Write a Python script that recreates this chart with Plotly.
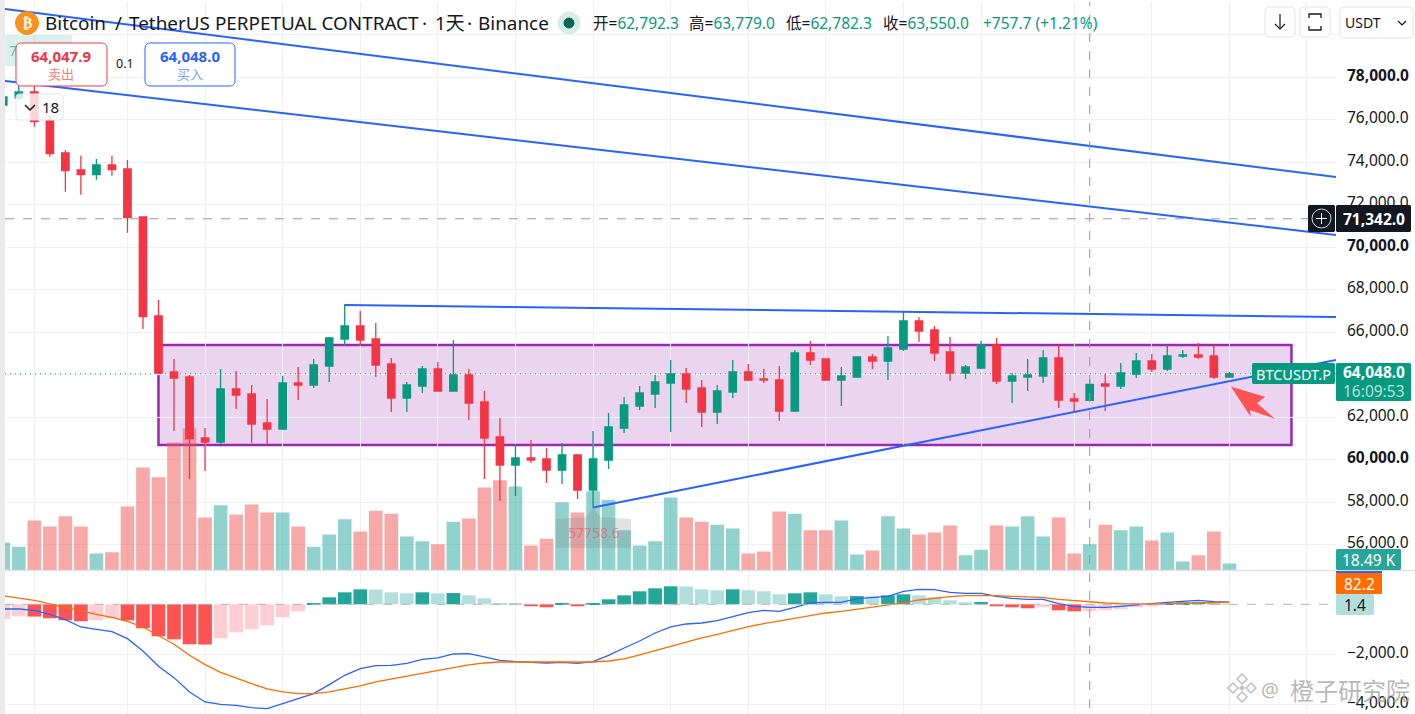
import plotly.graph_objects as go

opens = [76697,77026,77309,75944,74438,73638,73417,73873,73685,71426,66767,64132,63897,61026,60838,63332,63097,61732,61450,63614,
 63520,64414,65685,66296,65685,64508,62909,63473,64273,63238,63991,62720,61073,59755,60085,60038,59520,60226,58579,59991,
 61497,62532,63097,63614,64038,63379,62250,63191,64132,63803,63756,62297,65026,64744,63756,63897,64838,64650,65215,66532,
 66108,65073,64085,64320,65403,63709,63897,63944,64791,62862,62792.3,63567,63473,64038,64650,64273,64885,64932,64885,63897]
highs = [77167,77638,77591,76179,74579,74311,74155,74311,74108,71426,67520,64744,63991,61497,64273,64179,63520,62862,63944,64367,
 64744,65779,67285,67003,66438,64791,63661,64414,64602,65638,64273,63238,61967,60744,60932,60555,60791,60273,61355,62203,
 62956,63473,63991,64697,64320,63756,63520,64697,64508,64273,64414,65167,65591,64744,64367,64838,64979,65826,66956,66720,
 66296,65779,64461,65591,65732,64085,64744,65167,65403,63144,63779.0,64038,64555,65026,64979,65403,65167,65497,65403,64132]
lows = [76603,76932,75676,74264,72617,72475,73181,73370,70687,66155,64085,61370,59097,59473,60744,62391,60791,60696,61450,62814,
 63379,63661,65356,65356,63897,62250,62250,63144,63238,63238,61873,59097,58061,58297,59850,58908,58861,58155,57758.6,59567,
 61261,62344,62438,61308,62673,61544,61685,62909,63709,63614,61826,62250,64461,63756,62532,63897,64273,63756,65120,65544,
 64650,63709,63803,64273,63567,62673,63238,63614,62438,62250,62782.3,62297,63332,63850,64132,64179,64791,64744,63803,63897]
closes = [77073,77309,75911,74405,73605,73417,73873,73652,71393,66734,64085,63850,60993,60838,63332,63050,61685,61450,63614,63520,
 64461,65732,66296,65638,64461,62909,63520,64273,63238,63991,62673,61026,59755,60085,59991,59520,60226,58579,60038,61544,
 62579,63144,63661,64038,63332,62250,63238,64132,63756,63756,62297,65026,64697,63756,63944,64838,64650,65262,66532,66061,
 65026,64085,64367,65403,63709,63944,63991,64791,62814,62767,63550.0,63473,64085,64650,64273,64885,64932,64838,63897,64048]
volumes_k = [74,63,132,116,143,116,45,48,169,272,246,338,375,140,172,148,174,153,153,116,
 63,95,135,103,158,150,90,77,69,129,137,219,238,222,66,84,180,153,209,187,
 106,66,77,193,140,129,121,111,45,50,156,150,106,106,132,42,53,143,111,95,
 100,119,40,55,119,116,143,90,140,45,69,121,106,116,79,100,24,40,103,18.49]
macd_hist = [-587,-480,-490,-560,-640,-680,-640,-560,-640,-960,-1280,-1400,-1600,-1610,-1360,-1120,-1000,-840,-520,-280,
 30,280,480,600,590,480,440,480,440,450,360,240,40,15,-80,-120,30,-80,40,200,
 360,520,640,720,710,600,560,600,560,520,400,440,480,400,320,330,320,360,400,360,
 280,160,80,90,-80,-120,-160,-120,-240,-280,-275,-240,-200,-120,-80,40,80,85,40,1.4]
macd_line = [-187,-187,-240,-400,-613,-907,-1000,-1093,-1373,-1867,-2480,-2933,-3507,-3907,-4000,-4040,-4133,-4173,-3973,-3787,
 -3573,-3213,-2840,-2573,-2453,-2440,-2360,-2200,-2147,-1987,-1973,-2107,-2240,-2293,-2333,-2347,-2320,-2360,-2293,-2040,
 -1747,-1467,-1147,-907,-787,-747,-653,-480,-333,-240,-280,-120,53,80,80,227,280,320,520,600,
 587,480,440,440,320,240,200,200,27,-80,-120,-120,-80,-13,27,80,120,160,107,83.6]
macd_signal = [333,253,160,13,-133,-280,-400,-520,-680,-907,-1240,-1600,-2040,-2413,-2720,-2960,-3173,-3387,-3507,-3573,
 -3573,-3507,-3400,-3267,-3107,-2987,-2880,-2773,-2653,-2533,-2427,-2347,-2307,-2293,-2307,-2307,-2307,-2320,-2307,-2267,
 -2187,-2027,-1853,-1667,-1493,-1347,-1200,-1040,-893,-773,-667,-560,-440,-347,-280,-200,-120,-40,53,173,
 253,307,347,360,347,320,293,267,200,147,93,53,27,13,13,27,40,53,67,82.2]
bars = list(range(len(opens)))

trend_a_x = [0.11, 85.87]; trend_a_y = [81214, 73308]
trend_b_x = [0.11, 85.87]; trend_b_y = [77826, 70579]
trend_c_x = [21.97, 85.87]; trend_c_y = [67285, 66720]
trend_d_x = [38, 85.87]; trend_d_y = [57758.6, 64697]
zone_x = [10, 83]; zone_y = [60696, 65403]
last_price = 64048.0
cross_price = 71342.0
cross_bar = 70
price_ticks = list(range(56000, 82000, 2000))
hidden_ticks = [64000, 80000]
heavy_ticks = [78000, 70000, 60000]
macd_ticks = [-2000, -4000]
grid_bars = [2, 8, 13, 18, 23, 28, 33, 38, 43, 48, 53, 58, 63, 69, 74, 79, 84]
legend_open, legend_high, legend_low, legend_close = 62792.3, 63779.0, 62782.3, 63550.0
legend_change, legend_pct = 757.7, 1.21

W, H, ML, MR, MT = 1415, 714, 5, 79, 2
PW, PH = W - ML - MR, H - MT
px = lambda x: (x - ML) / PW
py = lambda y: (H - y) / PH
P = lambda pts, close=True: "M" + "L".join(f"{px(a):.5f},{py(b):.5f}" for a, b in pts) + ("Z" if close else "")

def rrect(x0, y0, x1, y1, r=6):
    k = r * 0.3
    return (f"M{px(x0+r):.5f},{py(y0):.5f}L{px(x1-r):.5f},{py(y0):.5f}"
            f"C{px(x1-k):.5f},{py(y0):.5f} {px(x1):.5f},{py(y0+k):.5f} {px(x1):.5f},{py(y0+r):.5f}"
            f"L{px(x1):.5f},{py(y1-r):.5f}C{px(x1):.5f},{py(y1-k):.5f} {px(x1-k):.5f},{py(y1):.5f} {px(x1-r):.5f},{py(y1):.5f}"
            f"L{px(x0+r):.5f},{py(y1):.5f}C{px(x0+k):.5f},{py(y1):.5f} {px(x0):.5f},{py(y1-k):.5f} {px(x0):.5f},{py(y1-r):.5f}"
            f"L{px(x0):.5f},{py(y0+r):.5f}C{px(x0):.5f},{py(y0+k):.5f} {px(x0+k):.5f},{py(y0):.5f} {px(x0+r):.5f},{py(y0):.5f}Z")

UP, DOWN = "#089981", "#f23645"
FONT = "Noto Sans"
CJK = "Noto Sans CJK SC"
INK = "#131722"

vol_colors = ["rgba(38,166,154,0.5)" if c >= o else "rgba(239,83,80,0.5)" for o, c in zip(opens, closes)]
hist_colors = []
for i, h in enumerate(macd_hist):
    prev = macd_hist[i-1] if i else None
    if h >= 0:
        hist_colors.append("#26a69a" if prev is not None and h >= prev else "#b2dfdb")
    else:
        hist_colors.append("#ff5252" if prev is not None and h <= prev else "#ffcdd2")

fig = go.Figure()
fig.add_bar(x=bars, y=volumes_k, marker=dict(color=vol_colors, line_width=0), width=0.88, yaxis="y", name="Vol")
fig.add_trace(go.Candlestick(x=bars, open=opens, high=highs, low=lows, close=closes, yaxis="y2", whiskerwidth=0,
    increasing=dict(line=dict(color=UP, width=1.3), fillcolor=UP),
    decreasing=dict(line=dict(color=DOWN, width=1.3), fillcolor=DOWN), name="BTCUSDT.P"))
for tx, ty in ((trend_a_x, trend_a_y), (trend_b_x, trend_b_y), (trend_c_x, trend_c_y), (trend_d_x, trend_d_y)):
    fig.add_scatter(x=tx, y=ty, mode="lines", line=dict(color="#2962ff", width=2), yaxis="y2")
fig.add_bar(x=bars, y=macd_hist, marker=dict(color=hist_colors, line_width=0), width=0.88, yaxis="y3", name="Hist")
fig.add_scatter(x=bars, y=macd_line, mode="lines", line=dict(color="#2962ff", width=1.3), yaxis="y3", name="MACD")
fig.add_scatter(x=bars, y=macd_signal, mode="lines", line=dict(color="#ff6d00", width=1.3), yaxis="y3", name="Signal")

shapes = [
    dict(type="rect", xref="paper", yref="paper", x0=px(0), x1=px(5), y0=py(714), y1=py(0), fillcolor="#ebebeb", line_width=0, layer="below"),
    dict(type="rect", xref="x", yref="y2", x0=zone_x[0], x1=zone_x[1], y0=zone_y[0], y1=zone_y[1],
         fillcolor="rgba(156,39,176,0.2)", line=dict(color="#9c27b0", width=2.5), layer="below"),
    dict(type="line", xref="paper", yref="y2", x0=0, x1=1, y0=cross_price, y1=cross_price, line=dict(color="#9598a1", width=1, dash="dash")),
    dict(type="line", xref="paper", yref="y2", x0=0, x1=1, y0=last_price, y1=last_price, line=dict(color="#2f8f80", width=1, dash="1px,4px")),
    dict(type="line", xref="x", yref="paper", x0=cross_bar, x1=cross_bar, y0=py(708), y1=1, line=dict(color="#9598a1", width=1, dash="dash")),
    dict(type="line", xref="paper", yref="y3", x0=0, x1=1, y0=0, y1=0, line=dict(color="#b2b5be", width=1, dash="dash")),
    dict(type="line", xref="paper", yref="paper", x0=0, x1=px(1415), y0=py(570.5), y1=py(570.5), line=dict(color="#e0e3eb", width=1.5)),
]
def path(d, fill=None, line=None, w=1):
    shapes.append(dict(type="path", xref="paper", yref="paper", path=d, fillcolor=fill or "rgba(0,0,0,0)",
                       line=dict(color=line or "rgba(0,0,0,0)", width=w if line else 0)))
def circle(cx, cy, r, fill, line=None):
    shapes.append(dict(type="circle", xref="paper", yref="paper", x0=px(cx-r), x1=px(cx+r), y0=py(cy+r), y1=py(cy-r),
                       fillcolor=fill, line=dict(color=line or fill, width=1)))

path(P([(1231,386.7),(1265,396.7),(1257,403.3),(1275.3,419),(1250,410),(1250.7,416.7)]), fill="#ff5252")
path(P([(556,519),(586,517),(593,507),(600,517),(631,519),(631,548),(556,548)]), fill="rgba(120,123,134,0.22)")
path(rrect(5,35,72,66,2), fill="rgba(8,153,129,0.15)")
path(rrect(16,43,107,86), fill="#ffffff", line="#f23645")
path(rrect(145,43,235,86), fill="#ffffff", line="#2962ff")
path(rrect(16,94,63,120,4), fill="rgba(255,255,255,0.8)", line="#e0e3eb")
path(P([(25,105),(30,110),(35,105)], False), line=INK, w=1.5)
circle(27, 23, 11.5, "#f7931a")
circle(569, 23, 11, "#d5ece8")
circle(569, 23, 5, "#056656")
path(rrect(1265,7,1295,37,5), fill="#ffffff", line="#e0e3eb")
path(rrect(1300,7,1330,37,5), fill="#ffffff", line="#e0e3eb")
path(rrect(1340,7,1413,38,5), fill="#ffffff", line="#e0e3eb")
path(P([(1280,14),(1280,29)], False), line=INK, w=1.2)
path(P([(1275,24),(1280,29),(1285,24)], False), line=INK, w=1.2)
path(P([(1309,18),(1309,14),(1321,14),(1321,18)], False), line=INK, w=1.3)
path(P([(1309,26),(1309,30),(1321,30),(1321,26)], False), line=INK, w=1.3)
path(P([(1398,21),(1402,25),(1406,21)], False), line=INK, w=1.2)
path(rrect(1308,205,1335,232,2), fill="#131722")
circle(1321.5, 218.5, 9.5, "#131722", "#d8d8d8")
path(P([(1321.5,213),(1321.5,224)], False), line="#ffffff")
path(P([(1316,218.5),(1327,218.5)], False), line="#ffffff")
path(rrect(1336,205,1411,232,2), fill="#131722")
path(rrect(1252,363,1335,384,2), fill=UP)
path(rrect(1336,363,1411,401,2), fill=UP)
path(rrect(1336,549,1401,570,2), fill="#26a69a")
path(P([(1336,571),(1382,571),(1382,573),(1336,573)]), fill="#2962ff")
path(rrect(1336,573,1382,594,1), fill="#ff6d00")
path(rrect(1336,594,1374,615,2), fill="#b2dfdb")
for cx, cy in ((1242,679),(1233,688),(1251,688),(1242,697)):
    path(P([(cx,cy-5),(cx+5,cy),(cx,cy+5),(cx-5,cy)]), line="rgba(170,170,170,0.75)", w=1.5)
path(P([(1242,685),(1245,688),(1242,691),(1239,688)]), fill="rgba(170,170,170,0.75)")

anns = []
def txt(x, y, s, size=14, color=INK, anchor="left", family=FONT):
    anns.append(dict(xref="paper", yref="paper", x=px(x), y=py(y), text=s, showarrow=False, xanchor=anchor, yanchor="middle",
                     font=dict(family=family, size=size, color=color), borderpad=0))
f1 = lambda v: f"{v:,.1f}"
txt(27, 23, "<b>₿</b>", 14, "#ffffff", "center", "DejaVu Sans")
for x, piece in ((44,"Bitcoin"),(114,"/"),(128,"TetherUS PERPETUAL CONTRACT"),(421,"·"),(434,"1天"),(466,"·"),(477,"Binance")):
    txt(x, 23, piece, 18.9, INK, family=f"{FONT}, {CJK}")
for x, label, v in ((592,"开",legend_open),(688,"高",legend_high),(785,"低",legend_low),(882,"收",legend_close)):
    txt(x, 23, label + f'=<span style="color:{UP}">{f1(v)}</span>', 15.5, INK, family=f"{FONT}, {CJK}")
txt(982, 23, f"+{legend_change} (+{legend_pct}%)", 15.5, UP)
txt(61.5, 56, "<b>64,047.9</b>", 15, DOWN, "center")
txt(61.5, 73, "卖出", 13, "#f77c80", "center", CJK)
txt(125, 63, "0.1", 12.5, INK, "center")
txt(190, 56, "<b>64,048.0</b>", 15, "#2962ff", "center")
txt(190, 73, "买入", 13, "#7a9cff", "center", CJK)
txt(50, 107, "18", 15, INK, "center")
txt(8, 50, "7", 14, "rgba(8,153,129,0.6)")
txt(1344, 23, "USDT", 14, INK)
txt(1373.5, 218.5, "<b>71,342.0</b>", 15.5, "#ffffff", "center")
txt(1293.5, 373.5, "BTCUSDT.P", 14.5, "#ffffff", "center")
txt(1373.5, 372, "<b>64,048.0</b>", 15.5, "#ffffff", "center")
txt(1373.5, 391, "16:09:53", 15.5, "#b7e3da", "center")
txt(1368.5, 560, "18.49 K", 15.5, "#ffffff", "center")
txt(1359, 583.5, "82.2", 15.5, "#ffffff", "center")
txt(1355, 604.5, "1.4", 15.5, INK, "center")
txt(593.5, 532, "57758.6", 14, "rgba(242,54,69,0.45)", "center")
txt(1260, 689, "@", 20, "rgba(170,170,170,0.85)")
txt(1289, 689, "橙子研究院", 24, "rgba(170,170,170,0.85)", family=CJK)

def price_label(v):
    if v in hidden_ticks:
        return ""
    s = f"{v:,.1f}"
    return f"<b>{s}</b>" if v in heavy_ticks else s

top = py(570.5)
layout_y = dict(domain=[top, 1], showgrid=False, zeroline=False, showticklabels=False, range=[0, 1500.84], fixedrange=True)
fig.update_layout(
    width=W, height=H, margin=dict(l=ML, r=MR, t=MT, b=0), paper_bgcolor="#ffffff", plot_bgcolor="#ffffff",
    showlegend=False, barmode="overlay", boxgap=0.32, shapes=shapes, annotations=anns,
    xaxis=dict(domain=[0, 1], range=[0.11, 85.87], anchor="y3", tickvals=grid_bars, showticklabels=False, ticks="",
               showgrid=True, gridcolor="#f0f1f4", gridwidth=1, zeroline=False, rangeslider=dict(visible=False), showline=False),
    yaxis=layout_y,
    yaxis2=dict(overlaying="y", side="right", anchor="x", range=[54790, 81544], tickvals=price_ticks,
                ticktext=[price_label(v) for v in price_ticks], showgrid=True, gridcolor="#f0f1f4",
                zeroline=False, ticks="", ticklabelstandoff=10, ticklabelshift=-2, tickfont=dict(family=FONT, size=15.5, color=INK)),
    yaxis3=dict(domain=[0, py(571)], side="right", anchor="x", range=[-4388, 1332], tickvals=macd_ticks,
                ticktext=[f"−{abs(v):,.1f}" for v in macd_ticks], showgrid=True, gridcolor="#f0f1f4",
                zeroline=False, ticks="", ticklabelstandoff=10, ticklabelshift=-2, tickfont=dict(family=FONT, size=15.5, color=INK)),
)
fig.write_html("out.html", config=dict(displayModeBar=False),
               post_script="document.body.style.margin='0';document.body.style.overflow='hidden';")
